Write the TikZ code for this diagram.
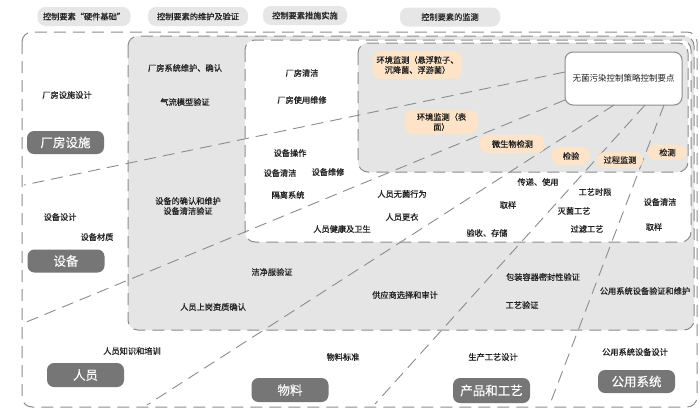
\documentclass[tikz,border=0pt]{standalone}
\usepackage{fontspec}
\setmainfont{Noto Sans CJK SC}
\newfontfamily\lblfont{Noto Sans CJK SC}[FakeBold=0.8]
\newfontfamily\catfont{Noto Sans CJK SC}[FakeBold=0.4]
\definecolor{regiongray}{HTML}{E5E5E5}
\definecolor{linegray}{HTML}{8C8C8C}
\definecolor{catgray}{HTML}{767676}
\definecolor{peach}{HTML}{FDE3C8}
\definecolor{pillgray}{HTML}{E6E6E6}
\definecolor{txt}{HTML}{222222}
\tikzset{
  regionbox/.style={draw=linegray, line width=1pt, dash pattern=on 12pt off 7pt, rounded corners=10pt},
  divider/.style={draw=linegray, line width=0.9pt, dash pattern=on 12pt off 7pt},
  lbl/.style={font=\lblfont\fontsize{8.2}{10}\selectfont, text=txt, inner sep=1pt, align=center},
  cat/.style={fill=catgray, rounded corners=7pt, minimum width=77pt, minimum height=23pt, inner sep=0pt, text=white, font=\catfont\fontsize{12.5}{14}\selectfont},
  toppill/.style={fill=pillgray, rounded corners=8pt, minimum height=19pt, inner sep=0pt, text=txt, font=\lblfont\fontsize{8.2}{10}\selectfont},
  peachpill/.style={fill=peach, rounded corners=8pt, inner sep=0pt, text=txt, align=center, font=\lblfont\fontsize{8.2}{10}\selectfont},
  keybox/.style={draw=linegray, fill=white, line width=1pt, rounded corners=8pt, minimum width=117pt, minimum height=53pt, inner sep=0pt, text=txt, font=\fontsize{8.5}{10}\selectfont}
}
\begin{document}
\begin{tikzpicture}[x=1pt,y=-1pt]
\useasboundingbox (0,0) rectangle (700,410);
\fill[white] (0,0) rectangle (700,410);
% nested regions
\path[regionbox, fill=white] (22,32) rectangle (697,407);
\path[regionbox, fill=regiongray] (128,36) rectangle (694,330);
\path[regionbox, fill=white] (245,40) rectangle (691,242);
\path[regionbox, fill=regiongray] (358,43) rectangle (688,172);
% key box
\node[keybox] (key) at (623.5,78.5) {无菌污染控制策略控制要点};
% divider coordinates
\coordinate (a1) at (565,72);
\coordinate (a2) at (565,100);
\coordinate (a3) at (614,105);
\coordinate (a4) at (645,105);
\coordinate (a5) at (664,105);
\coordinate (b1) at (24,185);
\coordinate (b2) at (24,323);
\coordinate (b3) at (147,405);
\coordinate (b4) at (375,404);
\coordinate (b5) at (550,404);
\draw[divider] (a1) -- (b1);
\draw[divider] (a2) -- (b2);
\draw[divider] (a3) -- (b3);
\draw[divider] (a4) -- (b4);
\draw[divider] (a5) -- (b5);
% top pills
\node[toppill, minimum width=93pt] (t1) at (84,16.5) {控制要素“硬件基础”};
\node[toppill, minimum width=100pt] (t2) at (198,16.5) {控制要素的维护及验证};
\node[toppill, minimum width=84pt] (t3) at (305,15.5) {控制要素措施实施};
\node[toppill, minimum width=100pt] (t4) at (450,17) {控制要素的监测};
% category labels
\node[cat] (c1) at (65.5,142.5) {厂房设施};
\node[cat] (c2) at (66,261) {设备};
\node[cat, minimum height=24pt] (c3) at (85.5,375) {人员};
\node[cat, minimum height=24pt] (c4) at (290,390) {物料};
\node[cat, minimum height=25pt] (c5) at (491.5,390.5) {产品和工艺};
\node[cat] (c6) at (636.5,381.5) {公用系统};
% peach pills
\node[peachpill, minimum width=89pt, minimum height=28pt] (p1) at (417.5,65) {环境监测（悬浮粒子、\\沉降菌、浮游菌）};
\node[peachpill, minimum width=73pt, minimum height=24pt] (p2) at (441.5,122) {环境监测（表\\面）};
\node[peachpill, minimum width=65pt, minimum height=18pt] (p3) at (512.5,144) {微生物检测};
\node[peachpill, minimum width=38pt, minimum height=18pt] (p4) at (571,156) {检验};
\node[peachpill, minimum width=46pt, minimum height=16pt] (p5) at (620,160) {过程监测};
\node[peachpill, minimum width=39pt, minimum height=15pt] (p6) at (667.5,152.5) {检测};
% outer (design) texts
\node[lbl] (o1) at (67,95) {厂房设施设计};
\node[lbl] (o2) at (60,217) {设备设计};
\node[lbl] (o3) at (97,237) {设备材质};
\node[lbl] (o4) at (132,351) {人员知识和培训};
\node[lbl] (o5) at (343,357) {物料标准};
\node[lbl] (o6) at (493,357) {生产工艺设计};
\node[lbl] (o7) at (635,352) {公用系统设备设计};
% maintenance / validation texts
\node[lbl] (m1) at (185,68) {厂房系统维护、确认};
\node[lbl] (m2) at (185,102) {气流模型验证};
\node[lbl] (m3) at (188,206) {设备的确认和维护\\设备清洁验证};
\node[lbl] (m4) at (272,272) {洁净服验证};
\node[lbl] (m5) at (213,307) {人员上岗资质确认};
\node[lbl] (m6) at (405,295) {供应商选择和审计};
\node[lbl] (m7) at (543,277) {包装容器密封性验证};
\node[lbl] (m8) at (522,305) {工艺验证};
\node[lbl] (m9) at (645,291) {公用系统设备验证和维护};
% implementation texts
\node[lbl] (i1) at (302,73) {厂房清洁};
\node[lbl] (i2) at (302,100) {厂房使用维修};
\node[lbl] (i3) at (290,153) {设备操作};
\node[lbl] (i4) at (280,173) {设备清洁};
\node[lbl] (i5) at (328,172) {设备维修};
\node[lbl] (i6) at (288,195) {隔离系统};
\node[lbl] (i7) at (342,229) {人员健康及卫生};
\node[lbl] (i8) at (402,194) {人员无菌行为};
\node[lbl] (i9) at (402,217) {人员更衣};
\node[lbl] (i10) at (538,182) {传递、使用};
\node[lbl] (i11) at (508,205) {取样};
\node[lbl] (i12) at (487,233) {验收、存储};
\node[lbl] (i13) at (595,192) {工艺时限};
\node[lbl] (i14) at (574,211) {灭菌工艺};
\node[lbl] (i15) at (587,229) {过滤工艺};
\node[lbl] (i16) at (660,202) {设备清洁};
\node[lbl] (i17) at (654,227) {取样};
\end{tikzpicture}
\end{document}
